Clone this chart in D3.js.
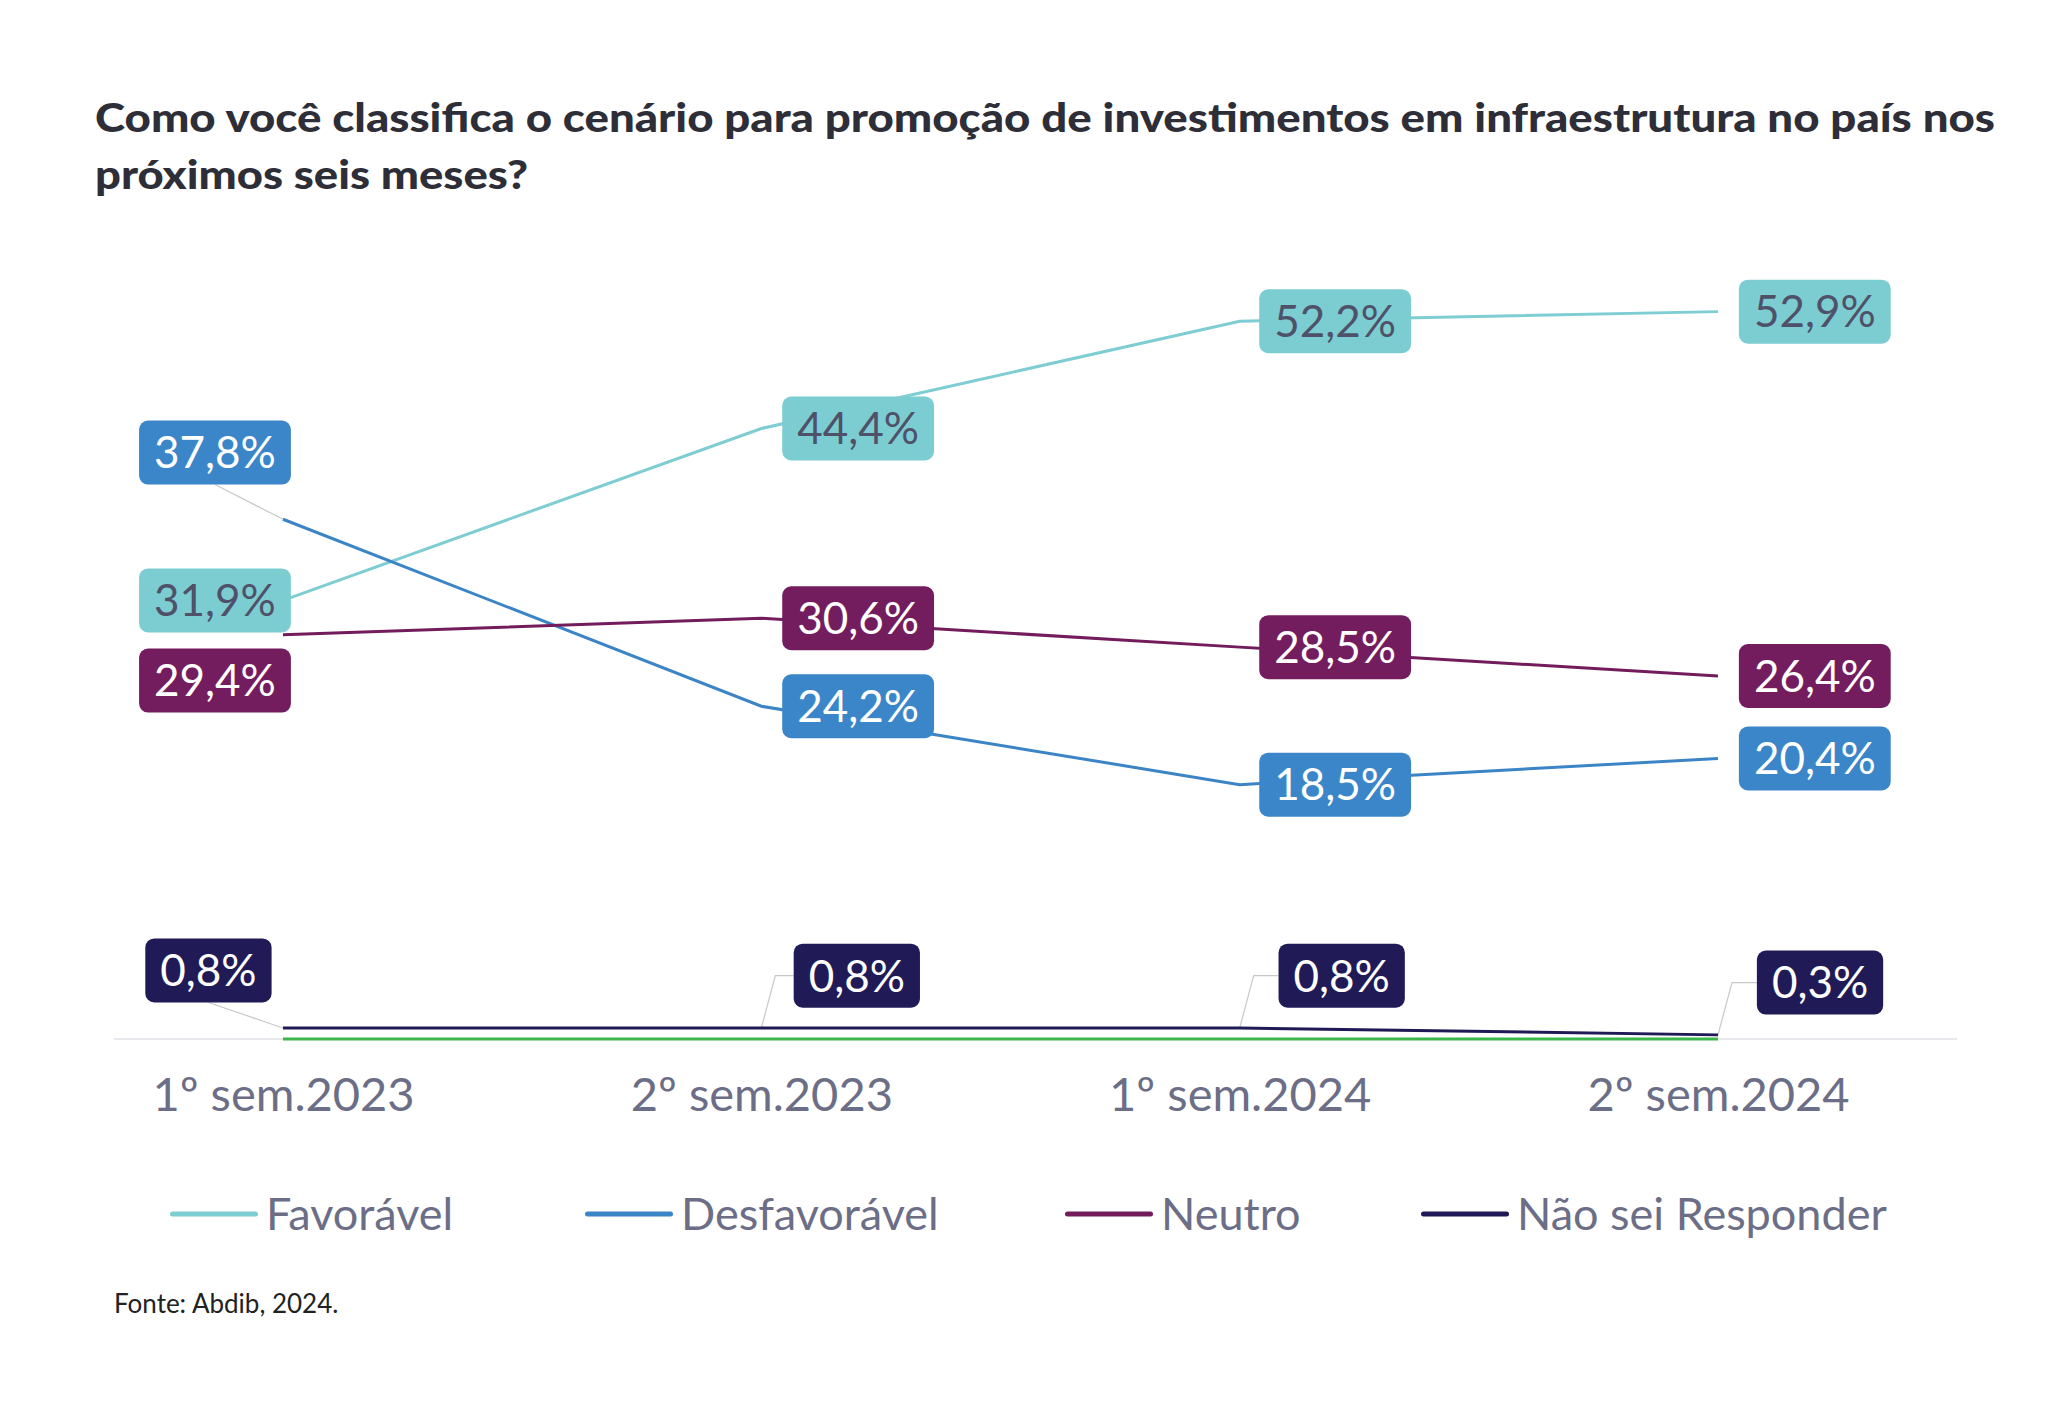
<!DOCTYPE html>
<html>
<head>
<meta charset="utf-8">
<script src="https://cdn.jsdelivr.net/npm/d3@7"></script>
<style>
  body { margin: 0; background: #fff; }
  text { font-family: Lato, "Open Sans", sans-serif; }
</style>
</head>
<body>
<svg></svg>
<script>
// Data
const periods = ["1º sem.2023", "2º sem.2023", "1º sem.2024", "2º sem.2024"];
const favoravel = [31.9, 44.4, 52.2, 52.9];
const desfavoravel = [37.8, 24.2, 18.5, 20.4];
const neutro = [29.4, 30.6, 28.5, 26.4];
const naoSei = [0.8, 0.8, 0.8, 0.3];
const semResposta = [0, 0, 0, 0]; // green line on the baseline, not in the legend
const seriesNames = ["Favorável", "Desfavorável", "Neutro", "Não sei Responder"];

const width = 2048;
const height = 1423;

const svg = d3.select("svg")
  .attr("width", width)
  .attr("height", height);

// Title
const title = svg.append("text")
  .attr("x", 95)
  .attr("y", 132)
  .style("font-size", "40px")
  .style("font-weight", 900)
  .style("fill", "#2e2e38");
title.append("tspan")
  .attr("x", 95)
  .attr("textLength", 1900)
  .attr("lengthAdjust", "spacingAndGlyphs")
  .text("Como você classifica o cenário para promoção de investimentos em infraestrutura no país nos");
title.append("tspan")
  .attr("x", 95)
  .attr("dy", 57)
  .attr("textLength", 433)
  .attr("lengthAdjust", "spacingAndGlyphs")
  .text("próximos seis meses?");

// Scales
const x = d3.scalePoint()
  .domain(periods)
  .range([283, 1718]);

const y = d3.scaleLinear()
  .domain([0, 60])
  .range([1039, 214]);

// Baseline
svg.append("line")
  .attr("x1", 114)
  .attr("x2", 1957)
  .attr("y1", y(0))
  .attr("y2", y(0))
  .attr("stroke", "#e8e8ec")
  .attr("stroke-width", 2);

// X axis labels
const xAxis = svg.append("g")
  .attr("transform", `translate(0, ${y(0) + 39})`)
  .call(d3.axisBottom(x).tickSize(0).tickPadding(0));
xAxis.select(".domain").remove();
xAxis.selectAll("text")
  .style("font-size", "47px")
  .style("font-family", "Lato, sans-serif")
  .attr("fill", "#6b6e86")
  .attr("dy", "0.71em");

// Series
const series = [
  { name: seriesNames[0], values: favoravel, color: "#7ecdd2", box: "#7ccdd1", text: "#4f5169",
    dx: [-52, 74, 73, 74], dy: [0, 0, 0, 0] },
  { name: seriesNames[1], values: desfavoravel, color: "#3b84c6", box: "#3b86c8", text: "#fff",
    dx: [-52, 74, 73, 74], dy: [-51, 0, 0, 0] },
  { name: seriesNames[2], values: neutro, color: "#731c5c", box: "#741d5e", text: "#fff",
    dx: [-52, 74, 73, 74], dy: [35, 0, 0, 0] },
  { name: seriesNames[3], values: naoSei, color: "#1f1a55", box: "#201b57", text: "#fff",
    dx: [-57, 73, 78, 78], dy: [-44, -40, -40, -40] }
];

const line = d3.line()
  .x((d, i) => x(periods[i]))
  .y(d => y(d));

svg.append("path")
  .datum(semResposta)
  .attr("d", line)
  .attr("fill", "none")
  .attr("stroke", "#3cb54a")
  .attr("stroke-width", 3);

series.forEach(s => {
  svg.append("path")
    .datum(s.values)
    .attr("d", line)
    .attr("fill", "none")
    .attr("stroke", s.color)
    .attr("stroke-width", 3);
});

// Labels (offsets measured in the reference view, scale 1.308)
const sc = 1.308;
series.forEach(s => {
  s.values.forEach((v, i) => {
    const px = x(periods[i]);
    const py = y(v);
    const cx = px + s.dx[i] * sc;
    const cy = py + s.dy[i] * sc;

    const g = svg.append("g");
    const t = g.append("text")
      .attr("x", cx)
      .attr("y", cy)
      .attr("text-anchor", "middle")
      .attr("dy", "0.36em")
      .style("font-size", "44px")
      .style("fill", s.text)
      .text(d3.format(".1f")(v).replace(".", ",") + "%");
    const w = t.node().getComputedTextLength() + 30;
    const h = 64;

    // leader lines where the label was pushed up from its point
    if (s.dy[i] < 0) {
      let pts;
      if (i === 0) {
        pts = [[cx, cy + h / 2], [px, py]];
      } else {
        pts = [[px, py], [px + 14, cy], [cx - w / 2, cy]];
      }
      svg.insert("path", "g")
        .attr("d", d3.line()(pts))
        .attr("fill", "none")
        .attr("stroke", "#c8c8cc")
        .attr("stroke-width", 1.2);
    }

    g.insert("rect", "text")
      .attr("x", cx - w / 2)
      .attr("y", cy - h / 2)
      .attr("width", w)
      .attr("height", h)
      .attr("rx", 9)
      .attr("fill", s.box);
  });
});

// Legend
const legendX = [170, 585, 1065, 1421];
const legend = svg.append("g")
  .attr("transform", `translate(0, ${1214})`);
series.forEach((s, i) => {
  legend.append("line")
    .attr("x1", legendX[i] + 2.5)
    .attr("x2", legendX[i] + 85.5)
    .attr("y1", 0)
    .attr("y2", 0)
    .attr("stroke", s.color)
    .attr("stroke-width", 5)
    .attr("stroke-linecap", "round");
  legend.append("text")
    .attr("x", legendX[i] + 96)
    .attr("y", 0)
    .attr("dy", "0.36em")
    .style("font-size", "45px")
    .style("fill", "#6b6e86")
    .text(s.name);
});

// Source
svg.append("text")
  .attr("x", 114)
  .attr("y", 1313)
  .style("font-size", "26px")
  .style("fill", "#222")
  .text("Fonte: Abdib, 2024.");
</script>
</body>
</html>
